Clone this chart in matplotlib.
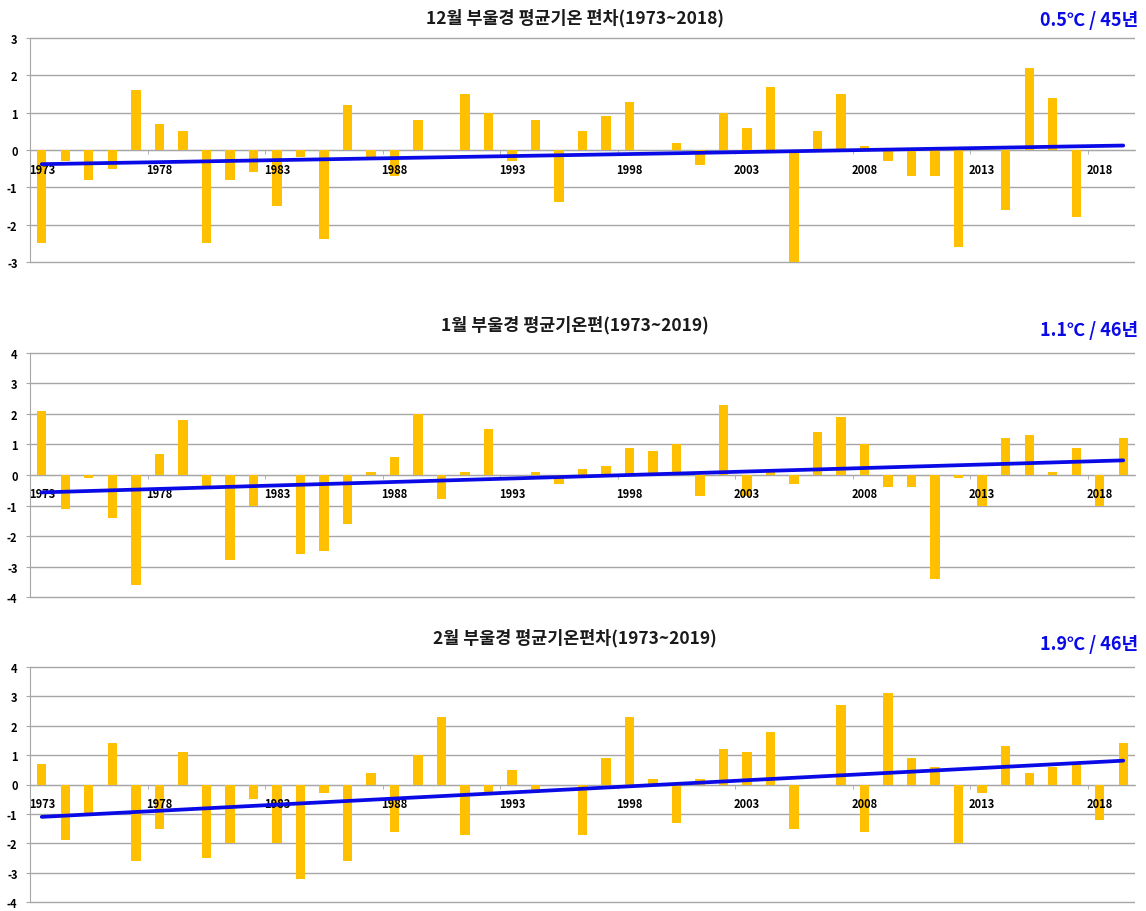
import numpy as np
import matplotlib
matplotlib.use("Agg")
import matplotlib.pyplot as plt
from matplotlib.ticker import FixedLocator

plt.rcParams['font.family'] = ['Noto Sans CJK KR', 'DejaVu Sans']

years = list(range(1973, 2020))
label_years = [1973, 1978, 1983, 1988, 1993, 1998, 2003, 2008, 2013, 2018]

dec_vals = [-2.5, -0.3, -0.8, -0.5, 1.6, 0.7, 0.5, -2.5, -0.8, -0.6,
            -1.5, -0.2, -2.4, 1.2, -0.2, -0.7, 0.8, 0.0, 1.5, 1.0,
            -0.3, 0.8, -1.4, 0.5, 0.9, 1.3, 0.0, 0.2, -0.4, 1.0,
            0.6, 1.7, -3.0, 0.5, 1.5, 0.1, -0.3, -0.7, -0.7, -2.6,
            0.0, -1.6, 2.2, 1.4, -1.8, 0.0]
jan_vals = [2.1, -1.1, -0.1, -1.4, -3.6, 0.7, 1.8, -0.4, -2.8, -1.0,
            0.0, -2.6, -2.5, -1.6, 0.1, 0.6, 2.0, -0.8, 0.1, 1.5,
            0.0, 0.1, -0.3, 0.2, 0.3, 0.9, 0.8, 1.0, -0.7, 2.3,
            -0.7, 0.1, -0.3, 1.4, 1.9, 1.0, -0.4, -0.4, -3.4, -0.1,
            -1.0, 1.2, 1.3, 0.1, 0.9, -1.0, 1.2]
feb_vals = [0.7, -1.9, -1.0, 1.4, -2.6, -1.5, 1.1, -2.5, -2.0, -0.5,
            -2.0, -3.2, -0.3, -2.6, 0.4, -1.6, 1.0, 2.3, -1.7, -0.3,
            0.5, -0.2, 0.0, -1.7, 0.9, 2.3, 0.2, -1.3, 0.2, 1.2,
            1.1, 1.8, -1.5, 0.0, 2.7, -1.6, 3.1, 0.9, 0.6, -2.0,
            -0.3, 1.3, 0.4, 0.6, 0.7, -1.2, 1.4]

# trend line values at first and last category
dec_trend = [-0.38, 0.12]
jan_trend = [-0.57, 0.48]
feb_trend = [-1.10, 0.81]

titles = ["12월 부울경 평균기온 편차(1973~2018)",
          "1월 부울경 평균기온편(1973~2019)",
          "2월 부울경 평균기온편차(1973~2019)"]
rates = ["0.5℃ / 45년", "1.1℃ / 46년", "1.9℃ / 46년"]
ylims = [(-3, 3), (-4, 4), (-4, 4)]

W, H = 1146, 912
fig = plt.figure(figsize=(W / 100, H / 100), dpi=100)

# axes boxes in pixel coordinates: (left, top, right, bottom)
boxes = [(30, 36.5, 1135, 265.5), (30, 351, 1135, 601), (30, 665, 1135, 906)]
title_y = [18, 325, 638]
rate_y = [20, 330, 645]

bar_color = "#FFC000"
trend_color = "#0A0AE6"
grid_color = "#A6A6A6"

series = [dec_vals, jan_vals, feb_vals]
trends = [dec_trend, jan_trend, feb_trend]

for i in range(3):
    l, t, r, b = boxes[i]
    ax = fig.add_axes([l / W, 1 - b / H, (r - l) / W, (b - t) / H])
    vals = series[i]
    x = np.arange(len(vals))
    ax.bar(x, vals, width=0.4, color=bar_color, zorder=2)
    ax.plot([0, len(years) - 1], trends[i], color=trend_color, lw=2.7,
            zorder=6, solid_capstyle='round')
    ax.set_xlim(-0.5, len(years) - 0.5)
    lo, hi = ylims[i]
    pad = 0.012 * (hi - lo)
    ax.set_ylim(lo - pad, hi + pad)
    ax.set_yticks(range(lo, hi + 1))
    ax.set_yticklabels([str(v) for v in range(lo, hi + 1)], fontsize=8,
                       fontweight='bold')
    ax.tick_params(axis='y', length=3, color=grid_color, pad=6)
    ax.grid(axis='y', color=grid_color, lw=1.0, zorder=0)
    ax.set_axisbelow(True)

    # category axis crossing at zero
    ax.spines['bottom'].set_position(('data', 0))
    ax.spines['bottom'].set_color(grid_color)
    ax.spines['bottom'].set_zorder(1)
    for s in ['top', 'right']:
        ax.spines[s].set_visible(False)
    ax.spines['left'].set_color(grid_color)
    ax.spines['left'].set_bounds(lo, hi)

    lab_pos = [years.index(y) for y in label_years]
    ax.set_xticks(lab_pos)
    ax.set_xticklabels([str(y) for y in label_years], fontsize=8,
                       fontweight='bold')
    ax.xaxis.set_minor_locator(FixedLocator([p - 0.5 for p in lab_pos[1:]]))
    ax.tick_params(axis='x', which='major', length=0, pad=9)
    ax.tick_params(axis='x', which='minor', length=3, color=grid_color,
                   direction='out')
    ax.xaxis.set_zorder(5)

    fig.text(575 / W, 1 - title_y[i] / H, titles[i], ha='center', va='center',
             fontsize=12.5, fontweight='bold', color='#1a1a1a')
    fig.text(1138 / W, 1 - rate_y[i] / H, rates[i], ha='right', va='center',
             fontsize=13, fontweight='bold', color=trend_color)

fig.savefig("out.png", dpi=100, facecolor='white')
